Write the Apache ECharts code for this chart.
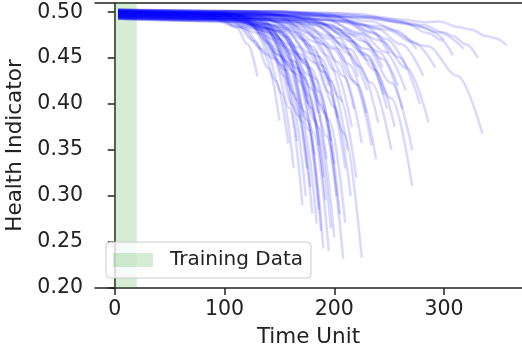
<!DOCTYPE html>
<html>
<head>
<meta charset="utf-8">
<script src="https://cdn.jsdelivr.net/npm/echarts@6.0.0/dist/echarts.min.js"></script>
<style>
  html, body { margin: 0; padding: 0; background: #fff; }
  #chart { width: 522px; height: 358px; }
</style>
</head>
<body>
<div id="chart"></div>
<script>
// health indicator runs, [time, value] pairs
const earlyRuns = [
  [[3, 0.500], [72, 0.499], [94, 0.495], [111, 0.483], [121, 0.465], [130, 0.430]],
  [[3, 0.497], [83, 0.495], [108, 0.489], [128, 0.468], [140, 0.439], [150, 0.382]],
  [[3, 0.494], [87, 0.492], [114, 0.484], [134, 0.460], [147, 0.425], [158, 0.357]],
  [[3, 0.501], [88, 0.500], [114, 0.495], [135, 0.480], [148, 0.458], [158, 0.420]],
  [[3, 0.495], [90, 0.493], [117, 0.483], [139, 0.454], [152, 0.412], [163, 0.330]]
]

const bottomRuns = [
  [[3, 0.502], [94, 0.499], [123, 0.487], [145, 0.449], [159, 0.396], [171, 0.290]],
  [[3, 0.499], [96, 0.496], [125, 0.485], [148, 0.449], [162, 0.399], [174, 0.300]],
  [[3, 0.496], [99, 0.493], [130, 0.481], [153, 0.442], [167, 0.388], [180, 0.281]],
  [[3, 0.493], [101, 0.490], [132, 0.477], [156, 0.437], [171, 0.381], [184, 0.270]],
  [[3, 0.503], [103, 0.499], [135, 0.486], [160, 0.443], [175, 0.383], [188, 0.262]],
  [[3, 0.500], [105, 0.496], [137, 0.482], [162, 0.436], [177, 0.372], [190, 0.243]],
  [[3, 0.497], [107, 0.493], [140, 0.479], [166, 0.433], [181, 0.369], [195, 0.240]],
  [[3, 0.494], [110, 0.490], [144, 0.477], [170, 0.434], [186, 0.374], [200, 0.255]],
  [[3, 0.501], [113, 0.498], [148, 0.486], [174, 0.446], [191, 0.391], [205, 0.280]],
  [[3, 0.498], [114, 0.494], [150, 0.479], [177, 0.432], [193, 0.365], [208, 0.232]],
  [[3, 0.495], [116, 0.492], [151, 0.479], [179, 0.439], [195, 0.383], [210, 0.271]],
  [[3, 0.502], [124, 0.498], [162, 0.483], [191, 0.435], [209, 0.368], [225, 0.233]],
  [[3, 0.499], [98, 0.496], [128, 0.486], [151, 0.452], [166, 0.405], [178, 0.310]],
  [[3, 0.496], [106, 0.493], [138, 0.482], [163, 0.446], [179, 0.396], [192, 0.295]],
  [[3, 0.493], [118, 0.490], [155, 0.480], [183, 0.445], [200, 0.397], [215, 0.300]],
  [[3, 0.500], [102, 0.497], [134, 0.485], [158, 0.446], [173, 0.392], [186, 0.285]],
  [[3, 0.497], [108, 0.494], [142, 0.481], [167, 0.439], [183, 0.381], [197, 0.265]],
  [[3, 0.499], [111, 0.496], [145, 0.485], [172, 0.449], [188, 0.399], [202, 0.300]]
]

const middleRuns = [
  [[3, 0.501], [91, 0.499], [120, 0.491], [141, 0.466], [154, 0.431], [166, 0.360]],
  [[3, 0.498], [94, 0.496], [122, 0.490], [145, 0.470], [158, 0.442], [170, 0.385]],
  [[3, 0.495], [96, 0.493], [126, 0.483], [149, 0.454], [163, 0.412], [175, 0.330]],
  [[3, 0.502], [100, 0.500], [131, 0.491], [155, 0.463], [169, 0.424], [182, 0.345]],
  [[3, 0.499], [105, 0.496], [137, 0.487], [162, 0.454], [177, 0.409], [190, 0.320]],
  [[3, 0.496], [108, 0.494], [142, 0.487], [167, 0.462], [183, 0.428], [197, 0.360]],
  [[3, 0.493], [110, 0.491], [144, 0.482], [170, 0.454], [186, 0.414], [200, 0.335]],
  [[3, 0.503], [114, 0.501], [149, 0.496], [176, 0.478], [193, 0.453], [207, 0.402]],
  [[3, 0.500], [117, 0.498], [153, 0.490], [180, 0.463], [197, 0.425], [212, 0.350]],
  [[3, 0.497], [119, 0.495], [156, 0.489], [184, 0.467], [201, 0.436], [216, 0.375]],
  [[3, 0.494], [121, 0.491], [158, 0.482], [187, 0.451], [205, 0.407], [220, 0.320]],
  [[3, 0.501], [124, 0.499], [162, 0.491], [191, 0.465], [209, 0.430], [225, 0.358]],
  [[3, 0.498], [126, 0.496], [165, 0.490], [195, 0.471], [213, 0.444], [229, 0.390]],
  [[3, 0.495], [129, 0.493], [168, 0.485], [199, 0.460], [218, 0.425], [234, 0.355]],
  [[3, 0.502], [132, 0.500], [173, 0.494], [204, 0.472], [223, 0.441], [240, 0.380]],
  [[3, 0.499], [135, 0.498], [176, 0.493], [208, 0.477], [228, 0.455], [245, 0.410]],
  [[3, 0.496], [139, 0.494], [181, 0.486], [214, 0.460], [234, 0.423], [252, 0.350]],
  [[3, 0.493], [142, 0.492], [186, 0.488], [219, 0.475], [240, 0.457], [258, 0.420]],
  [[3, 0.503], [144, 0.501], [189, 0.495], [223, 0.476], [244, 0.449], [262, 0.395]],
  [[3, 0.500], [102, 0.498], [133, 0.492], [157, 0.473], [172, 0.445], [185, 0.390]],
  [[3, 0.497], [107, 0.496], [140, 0.492], [166, 0.478], [181, 0.459], [195, 0.420]],
  [[3, 0.494], [97, 0.493], [127, 0.487], [150, 0.471], [164, 0.447], [176, 0.400]],
  [[3, 0.501], [102, 0.499], [134, 0.491], [158, 0.465], [173, 0.428], [186, 0.355]],
  [[3, 0.498], [112, 0.496], [146, 0.490], [173, 0.470], [189, 0.442], [203, 0.385]],
  [[3, 0.495], [134, 0.494], [176, 0.491], [207, 0.481], [227, 0.468], [244, 0.440]],
  [[3, 0.502], [122, 0.501], [160, 0.497], [189, 0.484], [206, 0.466], [222, 0.430]],
  [[3, 0.499], [140, 0.497], [184, 0.490], [217, 0.468], [237, 0.437], [255, 0.375]],
  [[3, 0.496], [116, 0.494], [151, 0.484], [179, 0.455], [195, 0.413], [210, 0.330]],
  [[3, 0.493], [127, 0.492], [166, 0.488], [196, 0.474], [214, 0.454], [230, 0.415]],
  [[3, 0.500], [136, 0.498], [179, 0.493], [211, 0.474], [231, 0.448], [248, 0.395]],
  [[3, 0.497], [120, 0.496], [157, 0.490], [185, 0.472], [203, 0.446], [218, 0.395]],
  [[3, 0.501], [131, 0.499], [171, 0.490], [202, 0.461], [221, 0.421], [238, 0.340]],
  [[3, 0.494], [106, 0.492], [139, 0.483], [164, 0.456], [179, 0.417], [193, 0.340]],
  [[3, 0.498], [146, 0.497], [191, 0.492], [225, 0.477], [246, 0.457], [265, 0.415]],
  [[3, 0.502], [138, 0.501], [180, 0.499], [213, 0.490], [233, 0.479], [250, 0.455]]
]

const lateRuns = [
  [[3, 0.496], [149, 0.494], [195, 0.486], [230, 0.460], [252, 0.423], [271, 0.350]],
  [[3, 0.500], [149, 0.497], [195, 0.487], [230, 0.453], [252, 0.406], [271, 0.311]],
  [[3, 0.503], [153, 0.501], [200, 0.496], [236, 0.477], [259, 0.451], [278, 0.400]],
  [[3, 0.499], [155, 0.498], [202, 0.494], [239, 0.482], [261, 0.465], [281, 0.431]],
  [[3, 0.495], [161, 0.494], [210, 0.491], [248, 0.481], [272, 0.467], [292, 0.440]],
  [[3, 0.501], [169, 0.500], [222, 0.498], [262, 0.489], [286, 0.477], [297, 0.470], [308, 0.453]],
  [[3, 0.498], [182, 0.497], [238, 0.495], [281, 0.486], [300, 0.478], [308, 0.474], [320, 0.465], [331, 0.450]],
  [[3, 0.494], [184, 0.492], [241, 0.485], [285, 0.463], [312, 0.431], [335, 0.368]],
  [[3, 0.500], [196, 0.499], [260, 0.492], [285, 0.489], [296, 0.490], [312, 0.484], [325, 0.481], [338, 0.474], [346, 0.472], [357, 0.464]],
  [[3, 0.497], [165, 0.497], [216, 0.495], [255, 0.490], [279, 0.484], [300, 0.470]],
  [[3, 0.502], [146, 0.501], [192, 0.498], [226, 0.486], [247, 0.471], [266, 0.440]],
  [[3, 0.498], [157, 0.496], [206, 0.490], [243, 0.469], [266, 0.439], [286, 0.380]],
  [[3, 0.496], [175, 0.496], [229, 0.494], [270, 0.487], [296, 0.478], [318, 0.460]],
  [[3, 0.500], [151, 0.499], [198, 0.497], [234, 0.490], [256, 0.480], [275, 0.460]]
]

const trainingWindow = [0, 20]
const xTicks = [0, 100, 200, 300]
const yTicks = [0.20, 0.25, 0.30, 0.35, 0.40, 0.45, 0.50]

const font = 'DejaVu Sans'
const ink = '#222222'
const green = 'rgba(44, 160, 44, 0.2)'

const chart = echarts.init(document.getElementById('chart'))

const runSeries = earlyRuns.concat(bottomRuns, middleRuns, lateRuns).map((run, i) => ({
  name: 'run' + i,
  type: 'line',
  data: run,
  smooth: 0.35,
  smoothMonotone: 'x',
  showSymbol: false,
  silent: true,
  z: 3,
  lineStyle: { color: '#0000ff', width: 2.5, opacity: 0.15 }
}))

chart.setOption({
  animation: false,
  backgroundColor: '#ffffff',
  grid: { left: 95, right: 0, top: 3, bottom: 70, outerBoundsMode: 'none' },
  legend: {
    left: 106,
    top: 242,
    selectedMode: false,
    data: [{ name: 'Training Data', icon: 'rect', itemStyle: { color: green } }],
    itemWidth: 40,
    itemHeight: 14,
    padding: [8, 8, 8, 7],
    backgroundColor: 'rgba(255, 255, 255, 0.8)',
    borderColor: '#cccccc',
    borderWidth: 1,
    borderRadius: 4,
    textStyle: { fontFamily: font, fontSize: 20, color: ink, padding: [0, 0, 0, 12] }
  },
  xAxis: [
    {
      type: 'value',
      min: -18,
      max: 371,
      name: 'Time Unit',
      nameLocation: 'middle',
      nameGap: 38,
      nameTextStyle: { fontFamily: font, fontSize: 21.5, color: ink },
      splitLine: { show: false },
      axisLine: { lineStyle: { color: ink, width: 1.5 } },
      axisTick: { length: 7, customValues: xTicks, lineStyle: { color: ink, width: 1.5 } },
      axisLabel: { customValues: xTicks, margin: 11, fontFamily: font, fontSize: 20.5, color: ink }
    },
    {
      type: 'value',
      position: 'top',
      min: -18,
      max: 371,
      splitLine: { show: false },
      axisLine: { lineStyle: { color: ink, width: 1.5 } },
      axisTick: { show: false },
      axisLabel: { show: false }
    }
  ],
  yAxis: {
    type: 'value',
    min: 0.2,
    max: 0.51,
    name: 'Health Indicator',
    nameLocation: 'middle',
    nameGap: 66,
    nameTextStyle: { fontFamily: font, fontSize: 21.5, color: ink },
    splitLine: { show: false },
    axisLine: { show: true, lineStyle: { color: ink, width: 1.5 } },
    axisTick: { show: true, length: 7, customValues: yTicks, lineStyle: { color: ink, width: 1.5 } },
    axisLabel: {
      customValues: yTicks,
      margin: 12,
      fontFamily: font,
      fontSize: 20.5,
      color: ink,
      formatter: v => v.toFixed(2)
    }
  },
  series: [
    {
      name: 'Training Data',
      type: 'line',
      data: [],
      z: 1,
      itemStyle: { color: green },
      markArea: {
        silent: true,
        itemStyle: { color: green },
        data: [[{ xAxis: trainingWindow[0] }, { xAxis: trainingWindow[1] }]]
      }
    }
  ].concat(runSeries)
})
</script>
</body>
</html>
